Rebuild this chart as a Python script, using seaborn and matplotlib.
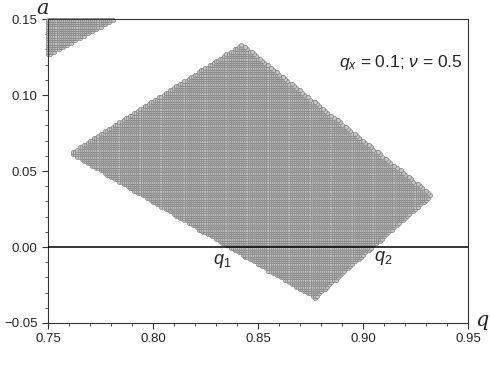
import numpy as np
import pandas as pd
import matplotlib
matplotlib.use("Agg")
import matplotlib.pyplot as plt
from matplotlib.path import Path
from matplotlib.ticker import MultipleLocator
import seaborn as sns

# Boundary of the stable regions, (q, a) pairs
mainQ = [0.7605, 0.8424, 0.9329, 0.8771]
mainA = [0.0618, 0.1336, 0.0342, -0.0336]
cornerQ = [0.7500, 0.7820, 0.7500]
cornerA = [0.1500, 0.1500, 0.1260]

# Grid of parameter points used in the scan
gridStepQ = 0.001
gridStepA = 0.0015

xTicks = [0.75, 0.80, 0.85, 0.90, 0.95]
yTicks = [-0.05, 0.00, 0.05, 0.10, 0.15]


def pointsInside(qs, as_):
    """Returns the scan points that fall inside the polygon qs, as_"""
    poly = Path(np.column_stack([qs, as_]))
    gq, ga = np.meshgrid(np.arange(0.75, 0.95 + 1e-9, gridStepQ),
                         np.arange(-0.05, 0.15 + 1e-9, gridStepA))
    pts = np.column_stack([gq.ravel(), ga.ravel()])
    keep = poly.contains_points(pts, radius=1e-6) | poly.contains_points(pts, radius=-1e-6)
    return pts[keep]


pts = np.vstack([pointsInside(mainQ, mainA), pointsInside(cornerQ, cornerA)])
df = pd.DataFrame({"q": pts[:, 0], "a": pts[:, 1]})

sns.set_style("ticks")
plt.rcParams["font.family"] = ["Liberation Sans", "DejaVu Sans"]
plt.rcParams["mathtext.fontset"] = "custom"
plt.rcParams["mathtext.it"] = "Liberation Sans:italic"
plt.rcParams["mathtext.rm"] = "Liberation Sans"

fig = plt.figure(figsize=(4.9, 3.66), dpi=100)
ax = fig.add_axes([0.098, 0.1175, 0.857, 0.8305])

sns.scatterplot(data=df, x="q", y="a", ax=ax, s=9, color="#c4c4c4",
                edgecolor="#7c7c7c", linewidth=0.45, legend=False, zorder=2,
                clip_on=False)

ax.axhline(0, color="black", linewidth=1.1, zorder=3)

ax.set_xlim(0.75, 0.95)
ax.set_ylim(-0.05, 0.15)
ax.set_xticks(xTicks)
ax.set_yticks(yTicks)
ax.xaxis.set_minor_locator(MultipleLocator(0.01))
ax.yaxis.set_minor_locator(MultipleLocator(0.01))
ax.set_xticklabels([f"{v:.2f}" for v in xTicks])
ax.set_yticklabels([f"{v:.2f}".replace("-", "\u2212") for v in yTicks])
ax.tick_params(which="major", length=4, width=0.8, labelsize=9.5, color="#333333")
ax.tick_params(which="minor", length=2.5, width=0.6, color="#333333")
ax.set_xlabel("")
ax.set_ylabel("")
for side in ["top", "right", "bottom", "left"]:
    ax.spines[side].set_visible(True)
    ax.spines[side].set_linewidth(0.8)
    ax.spines[side].set_color("#333333")

# Annotations
ax.text(0.8885, 0.1217, r"$q_x$ = 0.1; $\nu$ = 0.5", fontsize=12.5, va="center", ha="left")
ax.text(0.8329, -0.0095, r"$q_1$", fontsize=13, va="center", ha="center")
ax.text(0.9095, -0.0070, r"$q_2$", fontsize=13, va="center", ha="center")

fig.text(43 / 490, 1 - 8 / 366, "a", family="DejaVu Serif", style="italic",
         fontsize=15, ha="center", va="center")
fig.text(482 / 490, 1 - 320 / 366, "q", family="DejaVu Serif", style="italic",
         fontsize=15, ha="center", va="center")

fig.savefig("out.png", dpi=100)
